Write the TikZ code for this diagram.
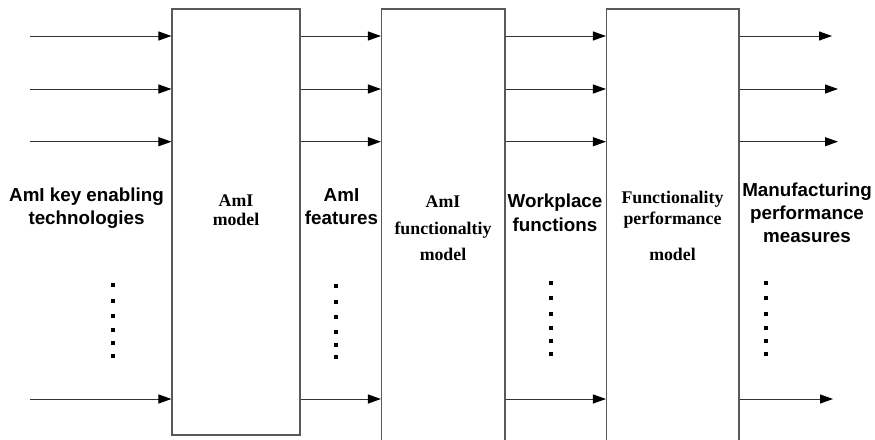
\documentclass[tikz,border=0pt]{standalone}
\usepackage{fontspec}
\setmainfont{Liberation Serif}
\newfontfamily\labelfont{Liberation Sans}
\usetikzlibrary{arrows.meta}

\begin{document}
\begin{tikzpicture}[x=1pt,y=-1pt,
  block/.style={draw=black!65, line width=1.1pt, rectangle, inner sep=0pt},
  flow/.style={draw=black!80, line width=1pt,
    -{Triangle[length=13pt,width=9pt,color=black]}},
  sidetext/.style={font=\labelfont\bfseries\fontsize{18.8}{23}\selectfont,
    align=center, inner sep=0pt, anchor=base},
  blocktext/.style={font=\bfseries\fontsize{17.8}{20}\selectfont,
    align=center, inner sep=0pt, anchor=base},
  dotmark/.style={fill=black}
]
\clip (0,0) rectangle (875,439);
\fill[white] (0,0) rectangle (875,439);

% the three model blocks (the last two run past the lower edge)
\node[block, minimum width=128pt, minimum height=426pt] (m1) at (236,222) {};
\node[block, minimum width=123.5pt, minimum height=441pt] (m2) at (443.25,229.5) {};
\node[block, minimum width=132.5pt, minimum height=441pt] (m3) at (672.75,229.5) {};

% block captions (anchored at the baseline of their last line)
\node[blocktext] (t1) at (236,225.7) {AmI\\[-0.3pt]model};
\node[blocktext] (t2) at (443,260.7) {AmI\\[7pt]functionaltiy\\[6.4pt]model};
\node[blocktext] (t3) at (672.5,260.7) {Functionality\\[1pt]performance\\[16.4pt]model};

% stage labels between the blocks
\node[sidetext] (l0) at (86.5,224.5) {AmI key enabling\\technologies};
\node[sidetext] (l1) at (341.5,224.3) {AmI\\[-0.5pt]features};
\node[sidetext] (l2) at (555,231.5) {Workplace\\[1pt]functions};
\node[sidetext] (l3) at (807,242.5) {Manufacturing\\performance\\measures};

% free ends of the signal rows
\coordinate (r1) at (30,36);
\coordinate (r2) at (30,89);
\coordinate (r3) at (30,141.7);
\coordinate (r4) at (30,399);
\coordinate (o1) at (832,36);
\coordinate (o2) at (838,89);
\coordinate (o3) at (838,141.7);
\coordinate (o4) at (833,399);

\foreach \r/\o in {r1/o1,r2/o2,r3/o3,r4/o4}{
  \draw[flow] (\r) -- (\r -| m1.west);
  \draw[flow] (\r -| m1.east) -- (\r -| m2.west);
  \draw[flow] (\r -| m2.east) -- (\r -| m3.west);
  \draw[flow] (\o -| m3.east) -- (\o);
}

% vertical ellipsis in each column
\foreach \x/\ys in {113/{285,300.7,316,330.3,343,356.3},
                    335.7/{286,301.7,317.3,332,345,357.3},
                    550.7/{282.7,298.3,313.7,328.3,341,354},
                    765.7/{282.7,298.3,313.7,328.3,341,354}}{
  \foreach \y in \ys {
    \fill[dotmark] (\x-2,\y-2) rectangle (\x+2,\y+2);
  }
}
\end{tikzpicture}
\end{document}
